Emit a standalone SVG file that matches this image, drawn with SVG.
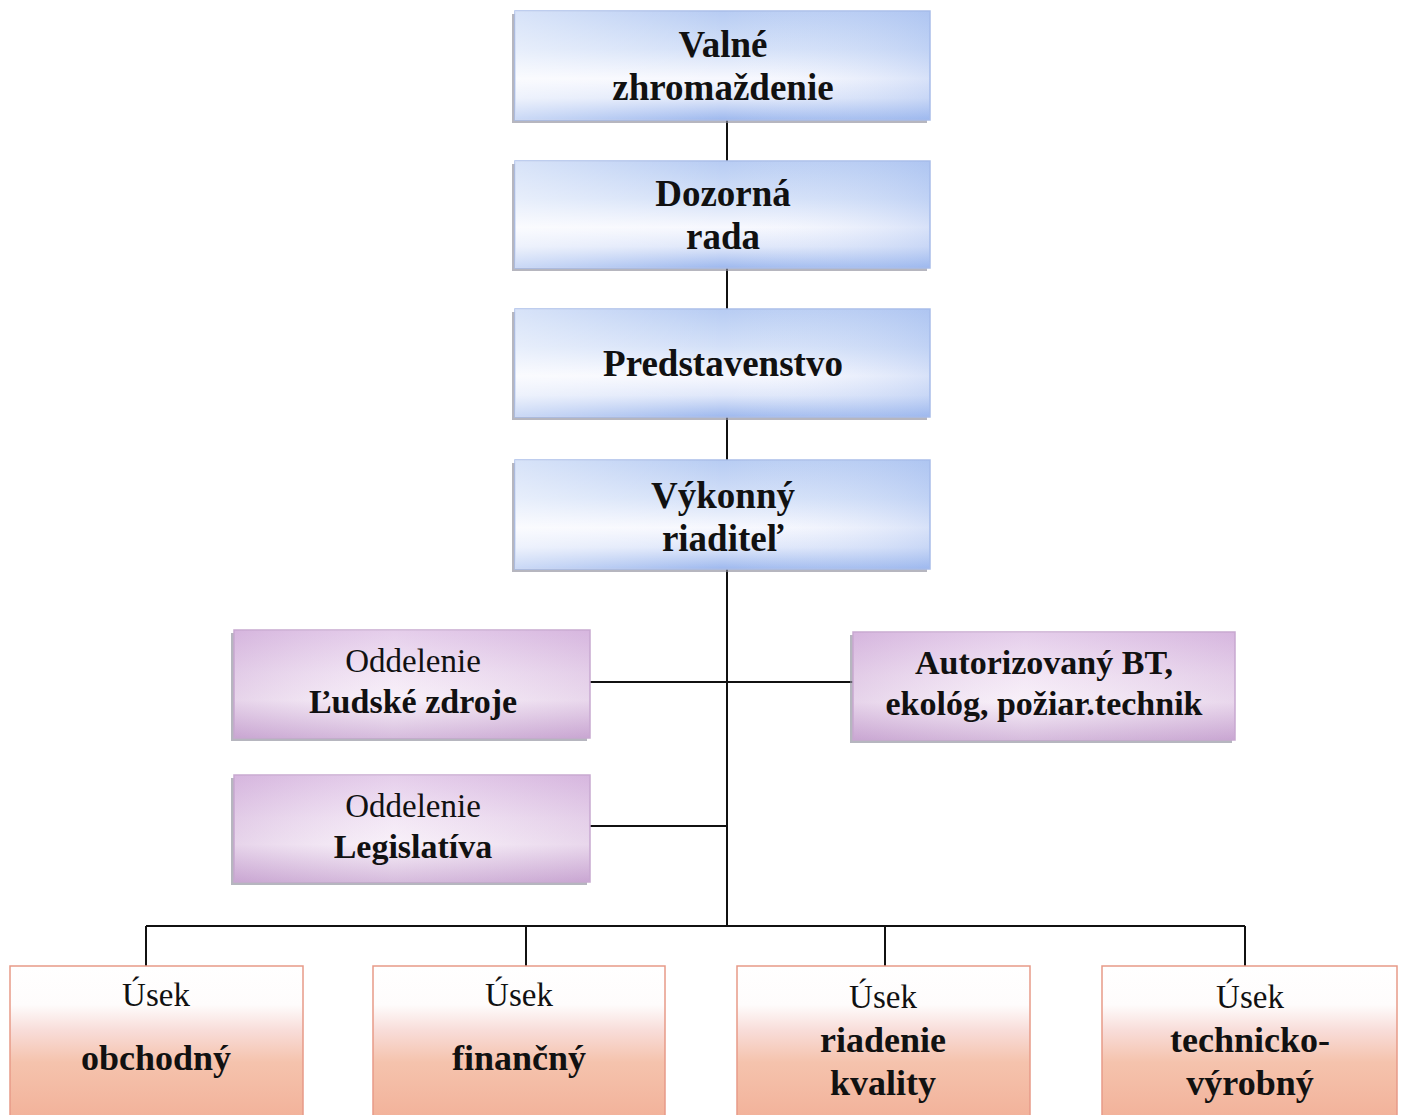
<svg xmlns="http://www.w3.org/2000/svg" width="1406" height="1115" viewBox="0 0 1406 1115">
  <defs>
    <linearGradient id="gBlue" x1="0" y1="0" x2="0" y2="1">
      <stop offset="0" stop-color="#b7ccf3"/>
      <stop offset="0.35" stop-color="#d3e0f8"/>
      <stop offset="0.62" stop-color="#f7f8fe"/>
      <stop offset="0.8" stop-color="#dfe7fa"/>
      <stop offset="1" stop-color="#9db8ee"/>
    </linearGradient>
    <linearGradient id="gBlueH" x1="0" y1="0" x2="1" y2="0">
      <stop offset="0" stop-color="#ffffff" stop-opacity="0.45"/>
      <stop offset="0.5" stop-color="#ffffff" stop-opacity="0"/>
      <stop offset="1" stop-color="#9db8ee" stop-opacity="0.35"/>
    </linearGradient>
    <linearGradient id="gPurple" x1="0" y1="0" x2="0" y2="1">
      <stop offset="0" stop-color="#dcbde4"/>
      <stop offset="0.4" stop-color="#efdff2"/>
      <stop offset="0.65" stop-color="#f6ecf7"/>
      <stop offset="1" stop-color="#c9a6d2"/>
    </linearGradient>
    <linearGradient id="gPurpleH" x1="0" y1="0" x2="1" y2="0">
      <stop offset="0" stop-color="#c9a6d2" stop-opacity="0.35"/>
      <stop offset="0.45" stop-color="#ffffff" stop-opacity="0.25"/>
      <stop offset="1" stop-color="#c9a6d2" stop-opacity="0.3"/>
    </linearGradient>
    <linearGradient id="gOrange" x1="0" y1="0" x2="0" y2="1">
      <stop offset="0" stop-color="#ffffff"/>
      <stop offset="0.25" stop-color="#fefcfc"/>
      <stop offset="0.42" stop-color="#f8dcd8"/>
      <stop offset="0.62" stop-color="#f5c3ad"/>
      <stop offset="1" stop-color="#f2b199"/>
    </linearGradient>
  </defs>
  <style>
    .shadow { fill: #8f8f9c; opacity: 0.65; }
    .blue { fill: url(#gBlue); stroke: #a9bde9; stroke-width: 1.5; }
    .blueH { fill: url(#gBlueH); }
    .purple { fill: url(#gPurple); stroke: #c7a9d0; stroke-width: 1.5; }
    .purpleH { fill: url(#gPurpleH); }
    .orange { fill: url(#gOrange); stroke: #e79a88; stroke-width: 1.5; }
    .b { font-family: "Liberation Serif", "Times New Roman", serif; font-weight: bold; fill: #111; text-anchor: middle; }
    .r { font-family: "Liberation Serif", "Times New Roman", serif; font-weight: normal; fill: #111; text-anchor: middle; }
    .line { stroke: #111; stroke-width: 2; fill: none; }
  </style>
  <rect width="1406" height="1115" fill="#ffffff"/>

  <g id="connectors">
    <line class="line" x1="727" y1="120" x2="727" y2="161"/>
    <line class="line" x1="727" y1="268" x2="727" y2="309"/>
    <line class="line" x1="727" y1="417" x2="727" y2="460"/>
    <line class="line" x1="727" y1="569" x2="727" y2="926"/>
    <line class="line" x1="590" y1="682" x2="853" y2="682"/>
    <line class="line" x1="590" y1="826" x2="727" y2="826"/>
    <line class="line" x1="146" y1="926" x2="1245" y2="926"/>
    <line class="line" x1="146" y1="926" x2="146" y2="966"/>
    <line class="line" x1="526" y1="926" x2="526" y2="966"/>
    <line class="line" x1="885" y1="926" x2="885" y2="966"/>
    <line class="line" x1="1245" y1="926" x2="1245" y2="966"/>
  </g>

  <g id="valne">
    <rect class="shadow" x="512" y="14" width="415" height="109"/>
    <rect class="blue" x="515" y="11" width="415" height="109"/>
    <rect class="blueH" x="515" y="11" width="415" height="109"/>
    <text class="b" x="723" y="57" font-size="37">Valné</text>
    <text class="b" x="723" y="100" font-size="37">zhromaždenie</text>
  </g>
  <g id="dozorna">
    <rect class="shadow" x="512" y="164" width="415" height="107"/>
    <rect class="blue" x="515" y="161" width="415" height="107"/>
    <rect class="blueH" x="515" y="161" width="415" height="107"/>
    <text class="b" x="723" y="206" font-size="37">Dozorná</text>
    <text class="b" x="723" y="249" font-size="37">rada</text>
  </g>
  <g id="predstavenstvo">
    <rect class="shadow" x="512" y="312" width="415" height="108"/>
    <rect class="blue" x="515" y="309" width="415" height="108"/>
    <rect class="blueH" x="515" y="309" width="415" height="108"/>
    <text class="b" x="723" y="376" font-size="37">Predstavenstvo</text>
  </g>
  <g id="vykonny">
    <rect class="shadow" x="512" y="463" width="415" height="109"/>
    <rect class="blue" x="515" y="460" width="415" height="109"/>
    <rect class="blueH" x="515" y="460" width="415" height="109"/>
    <text class="b" x="723" y="508" font-size="37">Výkonný</text>
    <text class="b" x="723" y="551" font-size="37">riaditeľ</text>
  </g>

  <g id="ludske-zdroje">
    <rect class="shadow" x="231" y="633" width="356" height="108"/>
    <rect class="purple" x="234" y="630" width="356" height="108"/>
    <rect class="purpleH" x="234" y="630" width="356" height="108"/>
    <text class="r" x="413" y="672" font-size="33">Oddelenie</text>
    <text class="b" x="413" y="713" font-size="34">Ľudské zdroje</text>
  </g>
  <g id="legislativa">
    <rect class="shadow" x="231" y="778" width="356" height="107"/>
    <rect class="purple" x="234" y="775" width="356" height="107"/>
    <rect class="purpleH" x="234" y="775" width="356" height="107"/>
    <text class="r" x="413" y="817" font-size="33">Oddelenie</text>
    <text class="b" x="413" y="858" font-size="34">Legislatíva</text>
  </g>
  <g id="autorizovany">
    <rect class="shadow" x="850" y="635" width="382" height="108"/>
    <rect class="purple" x="853" y="632" width="382" height="108"/>
    <rect class="purpleH" x="853" y="632" width="382" height="108"/>
    <text class="b" x="1044" y="674" font-size="34">Autorizovaný BT,</text>
    <text class="b" x="1044" y="715" font-size="34">ekológ, požiar.technik</text>
  </g>

  <g id="obchodny">
    <rect class="orange" x="10" y="966" width="293" height="155"/>
    <text class="r" x="156" y="1006" font-size="33">Úsek</text>
    <text class="b" x="156" y="1070" font-size="36">obchodný</text>
  </g>
  <g id="financny">
    <rect class="orange" x="373" y="966" width="292" height="155"/>
    <text class="r" x="519" y="1006" font-size="33">Úsek</text>
    <text class="b" x="519" y="1070" font-size="36">finančný</text>
  </g>
  <g id="riadenie-kvality">
    <rect class="orange" x="737" y="966" width="293" height="155"/>
    <text class="r" x="883" y="1008" font-size="33">Úsek</text>
    <text class="b" x="883" y="1052" font-size="36">riadenie</text>
    <text class="b" x="883" y="1095" font-size="36">kvality</text>
  </g>
  <g id="technicko-vyrobny">
    <rect class="orange" x="1102" y="966" width="295" height="155"/>
    <text class="r" x="1250" y="1008" font-size="33">Úsek</text>
    <text class="b" x="1250" y="1052" font-size="36">technicko-</text>
    <text class="b" x="1250" y="1095" font-size="36">výrobný</text>
  </g>
</svg>
